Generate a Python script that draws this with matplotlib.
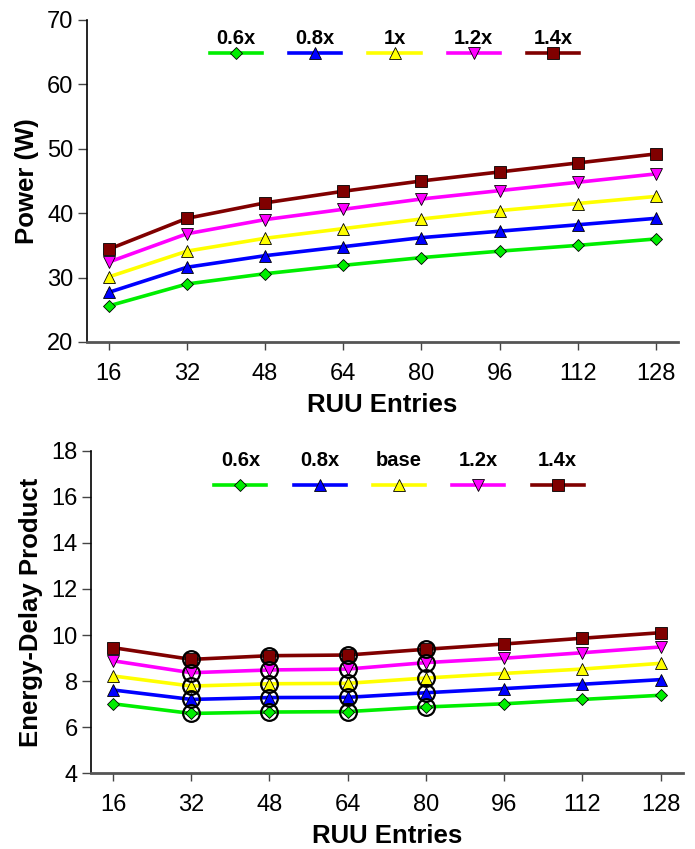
import numpy as np
import matplotlib
matplotlib.use('Agg')
import matplotlib.pyplot as plt

plt.rcParams['font.family'] = ['Liberation Sans', 'DejaVu Sans']

# RUU 条目数
ruu = [16, 32, 48, 64, 80, 96, 112, 128]

# 功率 (W)
power_06 = [25.6, 29.0, 30.6, 31.9, 33.1, 34.1, 35.0, 36.0]
power_08 = [27.7, 31.6, 33.4, 34.8, 36.2, 37.2, 38.2, 39.2]
power_10 = [30.1, 34.1, 36.1, 37.6, 39.1, 40.4, 41.5, 42.6]
power_12 = [32.4, 36.8, 39.0, 40.6, 42.2, 43.5, 44.8, 46.1]
power_14 = [34.4, 39.2, 41.6, 43.4, 45.0, 46.4, 47.8, 49.2]

# 能量延迟积
edp_06 = [7.01, 6.59, 6.65, 6.67, 6.87, 7.01, 7.20, 7.38]
edp_08 = [7.61, 7.20, 7.28, 7.29, 7.49, 7.67, 7.86, 8.06]
edp_10 = [8.22, 7.78, 7.88, 7.90, 8.13, 8.33, 8.52, 8.77]
edp_12 = [8.88, 8.36, 8.48, 8.52, 8.80, 8.99, 9.23, 9.48]
edp_14 = [9.45, 8.94, 9.10, 9.13, 9.38, 9.61, 9.86, 10.10]

# 下图中被圈出的点
circled_ruu = [32, 48, 64, 80]

labels_top = ['0.6x', '0.8x', '1x', '1.2x', '1.4x']
labels_bot = ['0.6x', '0.8x', 'base', '1.2x', '1.4x']
colors = ['#00ee00', '#0000ff', '#ffff00', '#ff00ff', '#800000']
markers = ['D', '^', '^', 'v', 's']
msizes = [6.5, 8.5, 8.5, 8.5, 8]


def style_axes(ax, ylo, yhi, ystep, ylabel):
    ax.set_xlim(11.5, 132.5)
    ax.set_ylim(ylo, yhi)
    ax.set_xticks(ruu)
    ax.set_yticks(np.arange(ylo, yhi + 0.1, ystep))
    for s in ['top', 'right']:
        ax.spines[s].set_visible(False)
    ax.spines['left'].set_linewidth(1.2)
    ax.spines['bottom'].set_linewidth(2)
    ax.spines['bottom'].set_color('#555555')
    ax.tick_params(axis='y', direction='out', length=6.5, width=1, color='#444444',
                   labelsize=17, pad=3)
    ax.tick_params(axis='x', direction='out', length=6, width=1, color='#444444',
                   labelsize=17, pad=9)
    ax.set_xlabel('RUU Entries', fontsize=18.5, fontweight='bold', labelpad=6)
    ax.set_ylabel(ylabel, fontsize=18.5, fontweight='bold', labelpad=6)


def draw_legend(ax, labels, text_y, line_y):
    for i, lab in enumerate(labels):
        cx = 0.2525 + i * 0.134
        ax.plot([cx - 0.044, cx, cx + 0.044], [line_y] * 3, transform=ax.transAxes,
                color=colors[i], lw=2.6, marker=markers[i], markevery=[1],
                ms=msizes[i], mec='black', mew=0.6, clip_on=False)
        ax.text(cx, text_y, lab, transform=ax.transAxes, ha='center', va='center',
                fontsize=14.5, fontweight='bold')


fig = plt.figure(figsize=(6.95, 8.49), dpi=100)
ax1 = fig.add_axes([0.1248, 0.5972, 0.8508, 0.3793])
ax2 = fig.add_axes([0.1309, 0.0895, 0.8514, 0.3793])

top_series = [power_06, power_08, power_10, power_12, power_14]
bot_series = [edp_06, edp_08, edp_10, edp_12, edp_14]

for i, ys in enumerate(top_series):
    ax1.plot(ruu, ys, color=colors[i], lw=2.6, marker=markers[i], ms=msizes[i],
             mec='black', mew=0.6, zorder=3)
style_axes(ax1, 20, 70, 10, 'Power (W)')
draw_legend(ax1, labels_top, 0.941, 0.8975)

for i, ys in enumerate(bot_series):
    ax2.plot(ruu, ys, color=colors[i], lw=2.6, marker=markers[i], ms=msizes[i],
             mec='black', mew=0.6, zorder=3)
for ys in bot_series:
    cy = [ys[ruu.index(x)] for x in circled_ruu]
    ax2.plot(circled_ruu, cy, ls='none', marker='o', ms=12, mfc='none',
             mec='black', mew=1.6, zorder=4)
style_axes(ax2, 4, 18, 2, 'Energy-Delay Product')
draw_legend(ax2, labels_bot, 0.972, 0.894)

fig.savefig('out.png', dpi=100)
